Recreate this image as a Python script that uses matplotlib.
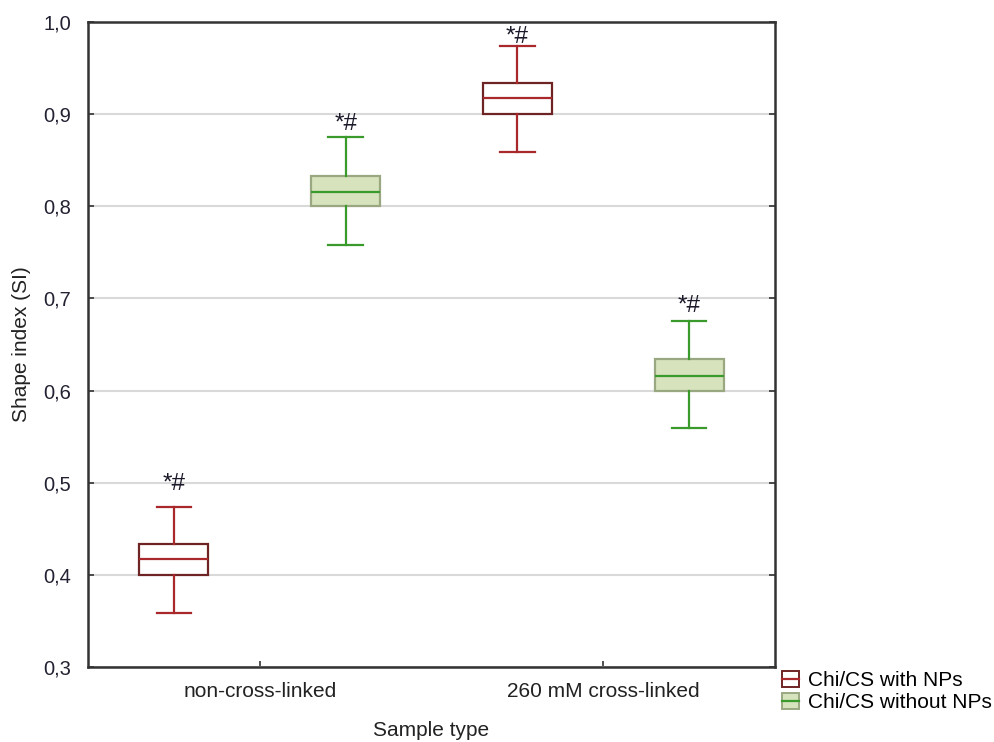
import matplotlib
matplotlib.use("Agg")
import matplotlib.pyplot as plt
from matplotlib.patches import Patch
from matplotlib.lines import Line2D
from matplotlib.legend_handler import HandlerTuple
from matplotlib.ticker import FuncFormatter

plt.rcParams['font.family'] = ['Liberation Sans', 'DejaVu Sans']

categories = ["non-cross-linked", "260 mM cross-linked"]
series = ["Chi/CS with NPs", "Chi/CS without NPs"]
# stats per series per category: (whisker low, q1, median, q3, whisker high)
with_nps_stats = [(0.359, 0.400, 0.417, 0.434, 0.474),
                  (0.859, 0.900, 0.917, 0.934, 0.974)]
without_nps_stats = [(0.758, 0.800, 0.815, 0.833, 0.875),
                     (0.559, 0.600, 0.616, 0.634, 0.675)]
annot_text = "*#"
with_nps_annot_y = [0.492, 0.977]
without_nps_annot_y = [0.883, 0.685]
yticks = [0.3, 0.4, 0.5, 0.6, 0.7, 0.8, 0.9, 1.0]

red_edge = "#6e2424"
red_line = "#a8282c"
green_fill = "#d6e3bd"
green_edge = "#9aa882"
green_line = "#3a9a2c"

fig = plt.figure(figsize=(9.95, 7.42), dpi=100)
ax = fig.add_axes([0.0884, 0.1011, 0.6906, 0.8693])

def make_stats(s):
    lo, q1, med, q3, hi = s
    return dict(whislo=lo, q1=q1, med=med, q3=q3, whishi=hi, fliers=[])

offsets = [-0.25, 0.25]
styles = [
    dict(face="white", edge=red_edge, line=red_line),
    dict(face=green_fill, edge=green_edge, line=green_line),
]
all_stats = [with_nps_stats, without_nps_stats]
all_annot = [with_nps_annot_y, without_nps_annot_y]

for si, (stats, st) in enumerate(zip(all_stats, styles)):
    pos = [i + 1 + offsets[si] for i in range(len(categories))]
    ax.bxp([make_stats(s) for s in stats], positions=pos, widths=0.2,
           patch_artist=True, showfliers=False,
           boxprops=dict(facecolor=st["face"], edgecolor=st["edge"], linewidth=1.6),
           medianprops=dict(color=st["line"], linewidth=1.6),
           whiskerprops=dict(color=st["line"], linewidth=1.6),
           capprops=dict(color=st["line"], linewidth=1.6),
           capwidths=0.1, zorder=3)
    for p, y in zip(pos, all_annot[si]):
        ax.text(p, y, annot_text, ha="center", va="baseline", fontsize=17.5,
                color="#1a1a2a", zorder=4)

ax.set_xlim(0.5, 2.5)
ax.set_ylim(0.3, 1.0)
ax.set_xticks([1, 2])
ax.set_xticklabels(categories, fontsize=15)
ax.set_yticks(yticks)
ax.yaxis.set_major_formatter(FuncFormatter(lambda v, p: f"{v:.1f}".replace(".", ",")))
ax.tick_params(axis="y", labelsize=14.5, direction="in", length=4, width=1.2,
               color="#333333", right=True, pad=12, labelcolor="#222233")
ax.tick_params(axis="x", direction="in", length=4, width=1.2, color="#333333",
               pad=11, labelcolor="#222222")
ax.grid(axis="y", color="#d9d9d9", linewidth=1.5, zorder=0)
ax.set_axisbelow(True)
for sp in ax.spines.values():
    sp.set_color("#333333")
    sp.set_linewidth(1.8)

ax.set_xlabel("Sample type", fontsize=15, color="#222222", labelpad=14)
ax.set_ylabel("Shape index (SI)", fontsize=15, color="#222222", labelpad=9)

handles = []
for st in styles:
    handles.append((Patch(facecolor=st["face"], edgecolor=st["edge"], linewidth=1.4),
                    Line2D([], [], color=st["line"], linewidth=1.6)))
fig.legend(handles, series, loc="upper left", bbox_to_anchor=(0.786, 0.096),
           frameon=False, fontsize=15, handler_map={tuple: HandlerTuple(ndivide=1)},
           handlelength=0.8, handleheight=0.85, handletextpad=0.45,
           labelspacing=0.12, borderpad=0, borderaxespad=0)

fig.savefig("out.png", dpi=100)
